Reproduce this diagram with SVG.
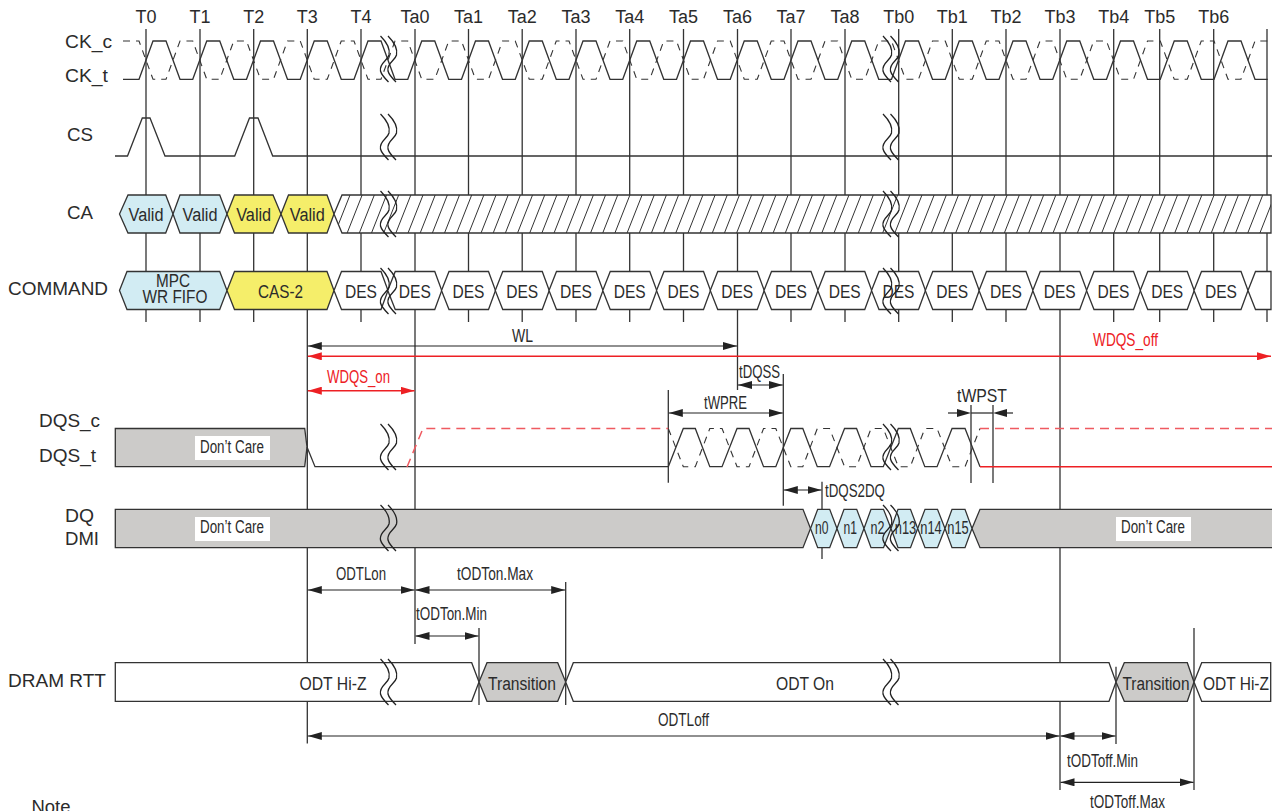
<svg xmlns="http://www.w3.org/2000/svg" xmlns:xlink="http://www.w3.org/1999/xlink" width="1272" height="811" viewBox="0 0 1272 811">
<style>
text{font-family:"Liberation Sans",Arial,sans-serif;fill:#2b2b2b;font-size:18px;text-anchor:middle}
.l{text-anchor:start}
.s{font-size:17.5px}
.red{fill:#ed2024}
.ln{fill:none;stroke:#333;stroke-width:1.3}
.gr{stroke:#333;stroke-width:1.3;fill:none}
.dim{stroke:#222;stroke-width:1.2;fill:none;marker-start:url(#a);marker-end:url(#a)}
.dr{stroke:#ed2024;stroke-width:1.4;fill:none;marker-start:url(#ar);marker-end:url(#ar)}
.dash{fill:none;stroke:#333;stroke-width:1.1;stroke-dasharray:7 6}
.rdash{fill:none;stroke:#ef5a60;stroke-width:1.5;stroke-dasharray:9 6}
.hx{stroke:#333;stroke-width:1.3;stroke-linejoin:miter}
.blue{fill:#d2ecf3}.yel{fill:#f5ee6a}.wh{fill:#fff}.gy{fill:#cccbc9}
.brk{fill:none;stroke:#222;stroke-width:1.3}
</style>
<defs>
<marker id="a" viewBox="0 0 14 8" refX="14" refY="4" markerWidth="14" markerHeight="8" markerUnits="userSpaceOnUse" orient="auto-start-reverse"><path d="M0,0L14,4L0,8Z" fill="#222"/></marker>
<marker id="ar" viewBox="0 0 14 8" refX="14" refY="4" markerWidth="14" markerHeight="8" markerUnits="userSpaceOnUse" orient="auto-start-reverse"><path d="M0,0L14,4L0,8Z" fill="#ed2024"/></marker>
<clipPath id="caclip"><path d="M334,214L342,195H1271V233H342Z"/></clipPath>
<g id="br"><path class="brk" d="M0,0C6,6 10,12 8.5,19C7,25 -1.5,27 0,35C1,39 5,43 8,46"/><path class="brk" d="M7.5,0C13.5,6 17.5,12 16,19C14.5,25 6,27 7.5,35C8.5,39 12.5,43 15.5,46"/></g>
</defs>
<rect width="1272" height="811" fill="#fff"/>

<g id="connectors">
<path class="gr" d="M146,29V322M200,29V322M253.7,29V322M307.3,29V743.5M361,29V322M415,29V644M468.5,29V322M522.2,29V322M576,29V322M629.7,29V322M683.5,29V322M737.5,29V390M791,29V322M845,29V322M898.7,29V322M952.3,29V322M1006,29V322M1060,29V790M1113.7,29V322M1159.7,29V322M1213.7,29V322M1267,29V322"/>
<path class="gr" d="M783.3,374V505.7M668.3,390V482.7M822,481.7V559M971,405V483M993,405V483M479,628V705M565.7,582V705M1116,666.7V744M1194,628V790"/>
<path class="dim" d="M307.8,346H737"/>
<path class="dr" d="M307.8,356.3H1271"/>
<path class="dr" d="M307.8,390.7H414.5"/>
<path class="dim" d="M738,385H782.8"/>
<path class="dim" d="M668.8,413H782.8"/>
<path class="gr" d="M971,413H993"/>
<path class="gr" d="M948,413H957"/><path d="M957,409L971,413L957,417Z" fill="#222"/>
<path class="gr" d="M1013,413H1007"/><path d="M1007,409L993,413L1007,417Z" fill="#222"/>
<path class="dim" d="M783.8,490H821.5"/>
<path class="dim" d="M307.8,590H414.5"/>
<path class="dim" d="M415.5,590H565.2"/>
<path class="dim" d="M415.5,636H478.5"/>
<path class="dim" d="M307.8,736H1059.5"/>
<path class="dim" d="M1060.5,736H1115.5"/>
<path class="dim" d="M1060.5,782.3H1193.5"/>
<text class="s" x="522.5" y="342" textLength="21" lengthAdjust="spacingAndGlyphs">WL</text>
<text class="s red" x="1125.5" y="346" textLength="65" lengthAdjust="spacingAndGlyphs">WDQS_off</text>
<text class="s red" x="358.5" y="382.5" textLength="63" lengthAdjust="spacingAndGlyphs">WDQS_on</text>
<text class="s" x="759.5" y="377.5" textLength="41" lengthAdjust="spacingAndGlyphs">tDQSS</text>
<text class="s" x="725.5" y="409" textLength="43" lengthAdjust="spacingAndGlyphs">tWPRE</text>
<text class="s" x="982" y="402" textLength="50" lengthAdjust="spacingAndGlyphs">tWPST</text>
<text class="s" x="855" y="497" textLength="60" lengthAdjust="spacingAndGlyphs">tDQS2DQ</text>
<text class="s" x="361" y="580" textLength="50" lengthAdjust="spacingAndGlyphs">ODTLon</text>
<text class="s" x="495" y="580" textLength="76" lengthAdjust="spacingAndGlyphs">tODTon.Max</text>
<text class="s" x="451.5" y="620" textLength="71" lengthAdjust="spacingAndGlyphs">tODTon.Min</text>
<text class="s" x="683.5" y="726" textLength="51" lengthAdjust="spacingAndGlyphs">ODTLoff</text>
<text class="s" x="1102.5" y="767" textLength="71" lengthAdjust="spacingAndGlyphs">tODToff.Min</text>
<text class="s" x="1127.5" y="808" textLength="75" lengthAdjust="spacingAndGlyphs">tODToff.Max</text>
</g>

<g id="tick-labels">
<text x="146" y="22.5">T0</text><text x="200" y="22.5">T1</text><text x="253.7" y="22.5">T2</text><text x="307.3" y="22.5">T3</text><text x="361" y="22.5">T4</text>
<text x="415" y="22.5">Ta0</text><text x="468.5" y="22.5">Ta1</text><text x="522.2" y="22.5">Ta2</text><text x="576" y="22.5">Ta3</text><text x="629.7" y="22.5">Ta4</text><text x="683.5" y="22.5">Ta5</text><text x="737.5" y="22.5">Ta6</text><text x="791" y="22.5">Ta7</text><text x="845" y="22.5">Ta8</text>
<text x="898.7" y="22.5">Tb0</text><text x="952.3" y="22.5">Tb1</text><text x="1006" y="22.5">Tb2</text><text x="1060" y="22.5">Tb3</text><text x="1113.7" y="22.5">Tb4</text><text x="1159.7" y="22.5">Tb5</text><text x="1213.7" y="22.5">Tb6</text>
</g>

<g id="clock">
<text class="l" x="65" y="48" textLength="47" lengthAdjust="spacingAndGlyphs">CK_c</text><text class="l" x="65" y="81.5" textLength="43" lengthAdjust="spacingAndGlyphs">CK_t</text>
<path class="dash" d="M123,41H139
l14 38.3h13l14-38.3h12.75 l14 38.3h13l14-38.3h12.75 l14 38.3h13l14-38.3h12.75 l14 38.3h13l14-38.3h12.75 l14 38.3h13l14-38.3h12.75 l14 38.3h13l14-38.3h12.75 l14 38.3h13l14-38.3h12.75
l14 38.3h13l14-38.3h12.75 l14 38.3h13l14-38.3h12.75 l14 38.3h13l14-38.3h12.75 l14 38.3h13l14-38.3h12.75 l14 38.3h13l14-38.3h12.75 l14 38.3h13l14-38.3h12.75 l14 38.3h13l14-38.3h12.75
l14 38.3h13l14-38.3h12.75 l14 38.3h13l14-38.3h12.75 l14 38.3h13l14-38.3h12.75 l14 38.3h13l14-38.3h12.75 l14 38.3h13l14-38.3h12.75 l14 38.3h13l14-38.3h12.75 l14 38.3h13l14-38.3h12.75"/>
<path class="ln" d="M123,79.3H139
l14-38.3h13l14 38.3h12.75 l14-38.3h13l14 38.3h12.75 l14-38.3h13l14 38.3h12.75 l14-38.3h13l14 38.3h12.75 l14-38.3h13l14 38.3h12.75 l14-38.3h13l14 38.3h12.75 l14-38.3h13l14 38.3h12.75
l14-38.3h13l14 38.3h12.75 l14-38.3h13l14 38.3h12.75 l14-38.3h13l14 38.3h12.75 l14-38.3h13l14 38.3h12.75 l14-38.3h13l14 38.3h12.75 l14-38.3h13l14 38.3h12.75 l14-38.3h13l14 38.3h12.75
l14-38.3h13l14 38.3h12.75 l14-38.3h13l14 38.3h12.75 l14-38.3h13l14 38.3h12.75 l14-38.3h13l14 38.3h12.75 l14-38.3h13l14 38.3h12.75 l14-38.3h13l14 38.3h12.75 l14-38.3h13l14 38.3h12.75"/>
</g>

<g id="cs">
<text class="l" x="67" y="141" textLength="26" lengthAdjust="spacingAndGlyphs">CS</text>
<path class="ln" d="M115,156H127.5L142.3,118H150L165,156H234.7L249.5,118H258L272.7,156H1272"/>
</g>

<g id="ca">
<text class="l" x="67" y="219" textLength="26" lengthAdjust="spacingAndGlyphs">CA</text>
<path class="hx blue" d="M119.5,214L128,195H165.7L173,214L165.7,233H128Z"/>
<path class="hx blue" d="M173,214L180,195H219.7L227,214L219.7,233H180Z"/>
<path class="hx yel" d="M227,214L234.5,195H273L281,214L273,233H234.5Z"/>
<path class="hx yel" d="M281,214L288.5,195H327L334,214L327,233H288.5Z"/>
<path fill="#fff" d="M334,214L342,195H1271V233H342Z"/>
<path clip-path="url(#caclip)" fill="none" stroke="#333" stroke-width="1" d="M350,195l-15 38m27.17-38l-15 38m27.17-38l-15 38m27.17-38l-15 38m27.17-38l-15 38m27.17-38l-15 38m27.17-38l-15 38m27.17-38l-15 38m27.17-38l-15 38m27.17-38l-15 38
m27.17-38l-15 38m27.17-38l-15 38m27.17-38l-15 38m27.17-38l-15 38m27.17-38l-15 38m27.17-38l-15 38m27.17-38l-15 38m27.17-38l-15 38m27.17-38l-15 38m27.17-38l-15 38
m27.17-38l-15 38m27.17-38l-15 38m27.17-38l-15 38m27.17-38l-15 38m27.17-38l-15 38m27.17-38l-15 38m27.17-38l-15 38m27.17-38l-15 38m27.17-38l-15 38m27.17-38l-15 38
m27.17-38l-15 38m27.17-38l-15 38m27.17-38l-15 38m27.17-38l-15 38m27.17-38l-15 38m27.17-38l-15 38m27.17-38l-15 38m27.17-38l-15 38m27.17-38l-15 38m27.17-38l-15 38
m27.17-38l-15 38m27.17-38l-15 38m27.17-38l-15 38m27.17-38l-15 38m27.17-38l-15 38m27.17-38l-15 38m27.17-38l-15 38m27.17-38l-15 38m27.17-38l-15 38m27.17-38l-15 38
m27.17-38l-15 38m27.17-38l-15 38m27.17-38l-15 38m27.17-38l-15 38m27.17-38l-15 38m27.17-38l-15 38m27.17-38l-15 38m27.17-38l-15 38m27.17-38l-15 38m27.17-38l-15 38
m27.17-38l-15 38m27.17-38l-15 38m27.17-38l-15 38m27.17-38l-15 38m27.17-38l-15 38m27.17-38l-15 38m27.17-38l-15 38m27.17-38l-15 38m27.17-38l-15 38m27.17-38l-15 38
m27.17-38l-15 38m27.17-38l-15 38m27.17-38l-15 38m27.17-38l-15 38m27.17-38l-15 38m27.17-38l-15 38m27.17-38l-15 38m27.17-38l-15 38m27.17-38l-15 38m27.17-38l-15 38"/>
<path class="hx" fill="none" d="M334,214L342,195H1271V233H342Z"/>
<text x="146" y="220.5" textLength="35" lengthAdjust="spacingAndGlyphs">Valid</text>
<text x="200" y="220.5" textLength="35" lengthAdjust="spacingAndGlyphs">Valid</text>
<text x="253.7" y="220.5" textLength="35" lengthAdjust="spacingAndGlyphs">Valid</text>
<text x="307.3" y="220.5" textLength="35" lengthAdjust="spacingAndGlyphs">Valid</text>
</g>

<g id="command">
<text class="l" x="8" y="295" textLength="100" lengthAdjust="spacingAndGlyphs">COMMAND</text>
<path class="hx blue" d="M119.5,290.5L127,271.5H219.7L227,290.5L219.7,309.5H127Z"/>
<path class="hx yel" d="M227,290.5L234.5,271.5H327L334,290.5L327,309.5H234.5Z"/>
<path id="h0" class="hx wh" d="M334,290.5L341.5,271.5H381L388,290.5L381,309.5H341.5Z"/>
<use href="#h0" x="53.75"/><use href="#h0" x="107.5"/><use href="#h0" x="161.25"/><use href="#h0" x="215"/><use href="#h0" x="268.75"/><use href="#h0" x="322.5"/><use href="#h0" x="376.25"/><use href="#h0" x="430"/><use href="#h0" x="483.75"/><use href="#h0" x="537.5"/><use href="#h0" x="591.25"/><use href="#h0" x="645"/><use href="#h0" x="698.75"/><use href="#h0" x="752.5"/><use href="#h0" x="806.25"/><use href="#h0" x="860"/>
<path class="hx wh" d="M1248,290.5L1255.5,271.5H1271V309.5H1255.5Z"/>
<text class="s" x="173" y="287" textLength="34" lengthAdjust="spacingAndGlyphs">MPC</text>
<text class="s" x="175" y="303" textLength="65" lengthAdjust="spacingAndGlyphs">WR FIFO</text>
<text x="280.5" y="297.5" textLength="45" lengthAdjust="spacingAndGlyphs">CAS-2</text>
<g>
<text x="361" y="297.5" textLength="32" lengthAdjust="spacingAndGlyphs">DES</text><text x="414.8" y="297.5" textLength="32" lengthAdjust="spacingAndGlyphs">DES</text><text x="468.5" y="297.5" textLength="32" lengthAdjust="spacingAndGlyphs">DES</text><text x="522.2" y="297.5" textLength="32" lengthAdjust="spacingAndGlyphs">DES</text><text x="576" y="297.5" textLength="32" lengthAdjust="spacingAndGlyphs">DES</text><text x="629.7" y="297.5" textLength="32" lengthAdjust="spacingAndGlyphs">DES</text><text x="683.5" y="297.5" textLength="32" lengthAdjust="spacingAndGlyphs">DES</text><text x="737.2" y="297.5" textLength="32" lengthAdjust="spacingAndGlyphs">DES</text><text x="791" y="297.5" textLength="32" lengthAdjust="spacingAndGlyphs">DES</text><text x="844.7" y="297.5" textLength="32" lengthAdjust="spacingAndGlyphs">DES</text><text x="898.5" y="297.5" textLength="32" lengthAdjust="spacingAndGlyphs">DES</text><text x="952.2" y="297.5" textLength="32" lengthAdjust="spacingAndGlyphs">DES</text><text x="1006" y="297.5" textLength="32" lengthAdjust="spacingAndGlyphs">DES</text><text x="1059.7" y="297.5" textLength="32" lengthAdjust="spacingAndGlyphs">DES</text><text x="1113.5" y="297.5" textLength="32" lengthAdjust="spacingAndGlyphs">DES</text><text x="1167.2" y="297.5" textLength="32" lengthAdjust="spacingAndGlyphs">DES</text><text x="1221" y="297.5" textLength="32" lengthAdjust="spacingAndGlyphs">DES</text>
</g>
</g>

<g id="dqs">
<text class="l" x="39" y="426.7" textLength="61" lengthAdjust="spacingAndGlyphs">DQS_c</text><text class="l" x="39" y="461.7" textLength="57" lengthAdjust="spacingAndGlyphs">DQS_t</text>
<path class="hx gy" d="M115.3,428.5H304.7L307,447L304.7,466.7H115.3Z"/>
<rect x="195" y="436" width="75" height="24" fill="#fff"/>
<text class="s" x="232" y="452.7" textLength="64" lengthAdjust="spacingAndGlyphs">Don’t Care</text>
<path class="ln" d="M307,447L315,466.7H668.3"/>
<path class="rdash" d="M407,467L423,428.5H668.3"/>
<path class="dash" d="M668.3,428.5l15 38.2h12l14.5-38.2h12.25l15 38.2h12l14.5-38.2h12.25l15 38.2h12l14.5-38.2h12.25l15 38.2h12l14.5-38.2h12.25l15 38.2h12l14.5-38.2h12.25l15 38.2h13L980,428.5"/>
<path class="ln" d="M668.3,466.7l15-38.2h12l14.5 38.2h12.25l15-38.2h12l14.5 38.2h12.25l15-38.2h12l14.5 38.2h12.25l15-38.2h12l14.5 38.2h12.25l15-38.2h12l14.5 38.2h12.25l15-38.2h13L980,466.7"/>
<path class="rdash" d="M980,428.5H1272"/>
<path fill="none" stroke="#ed2024" stroke-width="1.4" d="M980,466.7H1272"/>
</g>

<g id="dq">
<text class="l" x="65" y="521.7" textLength="29" lengthAdjust="spacingAndGlyphs">DQ</text><text class="l" x="65" y="545" textLength="34" lengthAdjust="spacingAndGlyphs">DMI</text>
<path class="hx gy" d="M115.3,509.3H803L810.5,528.5L803,547.7H115.3Z"/>
<path class="hx gy" d="M1273,509.3H980L972,528.5L980,547.7H1273Z"/>
<path class="hx blue" d="M810.5,528.5L817.7,509.3H829.7L837,528.5L829.7,547.7H817.7Z"/>
<path class="hx blue" d="M837,528.5L844,509.3H856.7L864,528.5L856.7,547.7H844Z"/>
<path class="hx blue" d="M864,528.5L871,509.3H883.5L891,528.5L883.5,547.7H871Z"/>
<path class="hx blue" d="M891,528.5L898,509.3H910.5L917.7,528.5L910.5,547.7H898Z"/>
<path class="hx blue" d="M917.7,528.5L925,509.3H937.5L945,528.5L937.5,547.7H925Z"/>
<path class="hx blue" d="M945,528.5L952,509.3H965L972,528.5L965,547.7H952Z"/>
<text class="s" x="821.7" y="534" textLength="13.5" lengthAdjust="spacingAndGlyphs">n0</text>
<text class="s" x="850.3" y="534" textLength="13.5" lengthAdjust="spacingAndGlyphs">n1</text>
<text class="s" x="877.5" y="534" textLength="14" lengthAdjust="spacingAndGlyphs">n2</text>
<text class="s" x="905.5" y="534" textLength="21.5" lengthAdjust="spacingAndGlyphs">n13</text>
<text class="s" x="931" y="534" textLength="21.5" lengthAdjust="spacingAndGlyphs">n14</text>
<text class="s" x="958" y="534" textLength="21.5" lengthAdjust="spacingAndGlyphs">n15</text>
<rect x="195" y="517" width="75" height="24" fill="#fff"/>
<text class="s" x="232" y="533.3" textLength="64" lengthAdjust="spacingAndGlyphs">Don’t Care</text>
<rect x="1116" y="517" width="75" height="24" fill="#fff"/>
<text class="s" x="1153" y="533.3" textLength="64" lengthAdjust="spacingAndGlyphs">Don’t Care</text>
</g>

<g id="rtt">
<text class="l" x="8" y="687" textLength="98" lengthAdjust="spacingAndGlyphs">DRAM RTT</text>
<path class="hx wh" d="M115.3,662.7H471.7L479,682L471.7,701.3H115.3Z"/>
<path class="hx gy" d="M479,682L487,662.7H557.7L565.7,682L557.7,701.3H487Z"/>
<path class="hx wh" d="M565.7,682L573.3,662.7H1109L1116,682L1109,701.3H573.3Z"/>
<path class="hx gy" d="M1116,682L1124.3,662.7H1187.3L1194,682L1187.3,701.3H1124.3Z"/>
<path class="hx wh" d="M1194,682L1201.7,662.7H1270.7V701.3H1201.7Z"/>
<text x="333" y="690" textLength="67" lengthAdjust="spacingAndGlyphs">ODT Hi-Z</text>
<text x="522" y="690" textLength="68" lengthAdjust="spacingAndGlyphs">Transition</text>
<text x="805" y="690" textLength="58" lengthAdjust="spacingAndGlyphs">ODT On</text>
<text x="1156" y="690" textLength="67" lengthAdjust="spacingAndGlyphs">Transition</text>
<text x="1236" y="690" textLength="66" lengthAdjust="spacingAndGlyphs">ODT Hi-Z</text>
</g>

<g id="breaks">
<use href="#br" x="380.5" y="36"/><use href="#br" x="380.5" y="114"/><use href="#br" x="380.5" y="191"/><use href="#br" x="380.5" y="268"/><use href="#br" x="380.5" y="424"/><use href="#br" x="380.5" y="505"/><use href="#br" x="380.5" y="659"/>
<use href="#br" x="883" y="36"/><use href="#br" x="883" y="114"/><use href="#br" x="883" y="191"/><use href="#br" x="883" y="268"/><use href="#br" x="883" y="424"/><use href="#br" x="883" y="505"/><use href="#br" x="883" y="659"/>
</g>

<text class="l" x="31.5" y="813" textLength="39" lengthAdjust="spacingAndGlyphs">Note</text>
</svg>
